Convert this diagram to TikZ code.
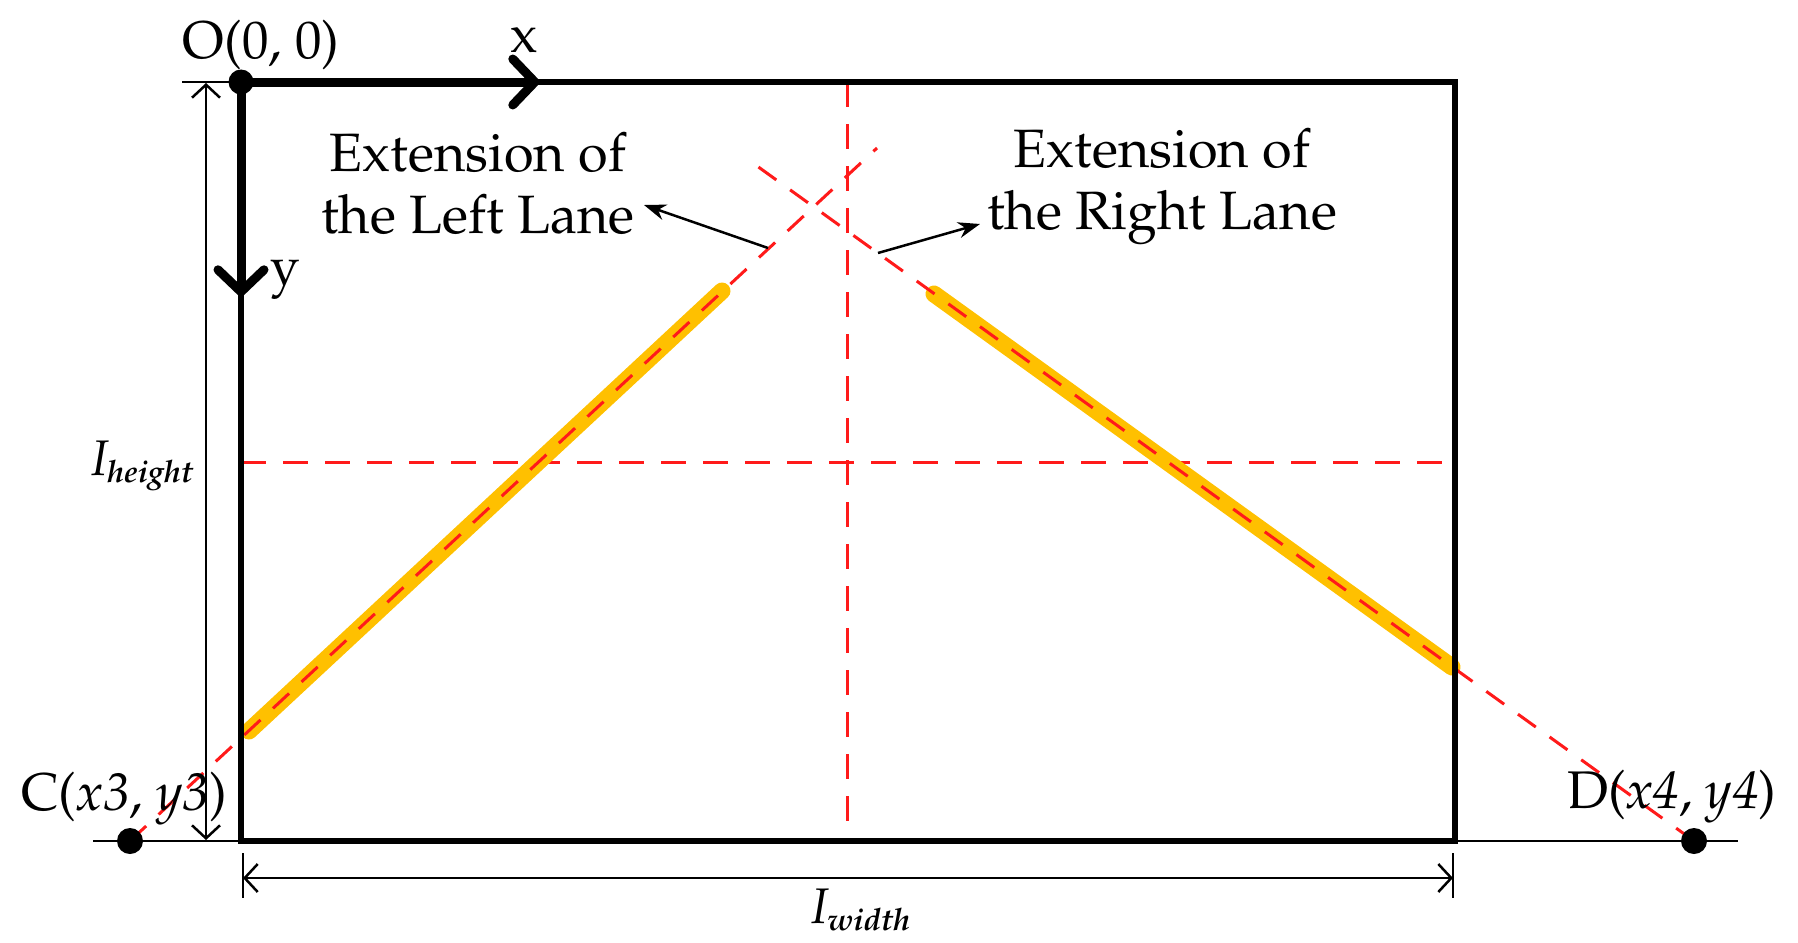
\documentclass[tikz,border=0pt]{standalone}
\usepackage[T1]{fontenc}
\usepackage{mathpazo}
\usetikzlibrary{arrows.meta}
\definecolor{lanegold}{HTML}{FFC000}
\definecolor{lanered}{HTML}{FF1A1A}
\tikzset{
  boxline/.style={line width=6.5pt},
  axisline/.style={line width=9pt},
  thinline/.style={line width=2pt},
  centerdash/.style={lanered, line width=3pt, dash pattern=on 25pt off 17pt},
  lanedash/.style={lanered, line width=3pt, dash pattern=on 22pt off 17pt},
  yellowlane/.style={lanegold, line width=17pt, line cap=round},
  dimarrow/.style={thinline, {Straight Barb[length=13pt,width=28pt,line width=2.5pt]}-{Straight Barb[length=13pt,width=28pt,line width=2.5pt]}},
  callout/.style={line width=2.5pt, -{Stealth[length=22pt,width=16pt]}},
  lbl/.style={inner sep=0pt, font=\fontsize{53}{60}\selectfont},
  biglbl/.style={inner sep=0pt, align=center, font=\fontsize{54}{62}\selectfont},
  dot/.style={circle, fill=black, inner sep=0pt, minimum size=26pt}
}
\begin{document}
\begin{tikzpicture}[x=1pt,y=-1pt]
\useasboundingbox (0,0) rectangle (1798,942);
% key points
\coordinate (TL) at (241,82);
\coordinate (TR) at (1455,82);
\coordinate (BL) at (241,841);
\coordinate (BR) at (1455,841);
\coordinate (VT) at (847,82);
\coordinate (VB) at (847,841);
\coordinate (HL) at (241,462);
\coordinate (HR) at (1455,462);
\coordinate (Cpt) at (130,841);
\coordinate (Dpt) at (1694,841);
\coordinate (Ltop) at (877,148);
\coordinate (Rtop) at (757,166);
\coordinate (LYa) at (249,731);
\coordinate (LYb) at (722,291);
\coordinate (RYa) at (934,294);
\coordinate (RYb) at (1452,667);
\coordinate (Lcall) at (768,248);
\coordinate (Rcall) at (878,253);
% center dashed lines
\draw[centerdash] (VT) -- (VB);
\draw[centerdash] (HL) -- (HR);
% yellow lanes
\draw[yellowlane] (LYa) -- (LYb);
\draw[yellowlane] (RYa) -- (RYb);
% red lane lines
\draw[lanedash] (Cpt) -- (Ltop);
\draw[lanedash] (Dpt) -- (Rtop);
% thin baseline and extension lines
\coordinate (BaseL) at (93,841);
\coordinate (BaseR) at (1738,841);
\draw[thinline] (BaseL) -- (BaseR);
\coordinate (TopExt) at (182,82);
\draw[thinline] (TopExt) -- (TL);
% frame
\draw[boxline, line join=miter] (TL) -- (TR) -- (BR) -- (BL) -- cycle;
% dimension lines
\coordinate (VDa) at (206,83);
\coordinate (VDb) at (206,840);
\draw[dimarrow] (VDa) -- (VDb);
\coordinate (HDa) at (243,878);
\coordinate (HDb) at (1453,878);
\draw[dimarrow] (HDa) -- (HDb);
\coordinate (TkLa) at (243,853);
\coordinate (TkLb) at (243,898);
\coordinate (TkRa) at (1453,853);
\coordinate (TkRb) at (1453,898);
\draw[thinline] (TkLa) -- (TkLb);
\draw[thinline] (TkRa) -- (TkRb);
% axes
\coordinate (Xend) at (541,82);
\coordinate (Yend) at (241,298);
\draw[axisline, -{Straight Barb[length=22pt,width=46pt,line width=9pt,line cap=round]}] (TL) -- (Xend);
\draw[axisline, -{Straight Barb[length=22pt,width=46pt,line width=9pt,line cap=round]}] (TL) -- (Yend);
% dots
\node[dot, minimum size=25pt] (Odot) at (TL) {};
\node[dot] (Cdot) at (Cpt) {};
\node[dot] (Ddot) at (Dpt) {};
% labels
\node[lbl] (Olbl) at (261,45) {O(0, 0)};
\node[lbl] (xlbl) at (524,40) {x};
\node[lbl] (ylbl) at (285,280) {y};
\node[lbl] (Clbl) at (124,799) {C(\textit{x3}, \textit{y3})};
\node[lbl] (Dlbl) at (1672,797) {D(\textit{x4}, \textit{y4})};
\node[biglbl] (Llbl) at (478,184) {Extension of\\the Left Lane};
\node[biglbl] (Rlbl) at (1162,187) {Extension of\\the Right Lane};
\node[inner sep=0pt] (Hlbl) at (142,466) {\fontsize{50}{56}\selectfont\itshape I\kern-1pt\lower7pt\hbox{\fontsize{31}{31}\selectfont\bfseries\itshape height}};
\node[inner sep=0pt] (Wlbl) at (861,910) {\fontsize{50}{56}\selectfont\itshape I\kern-1pt\lower7pt\hbox{\fontsize{31}{31}\selectfont\bfseries\itshape width}};
% callouts
\coordinate (LcallEnd) at (644,205);
\coordinate (RcallEnd) at (980,224);
\draw[callout] (Lcall) -- (LcallEnd);
\draw[callout] (Rcall) -- (RcallEnd);
\end{tikzpicture}
\end{document}
